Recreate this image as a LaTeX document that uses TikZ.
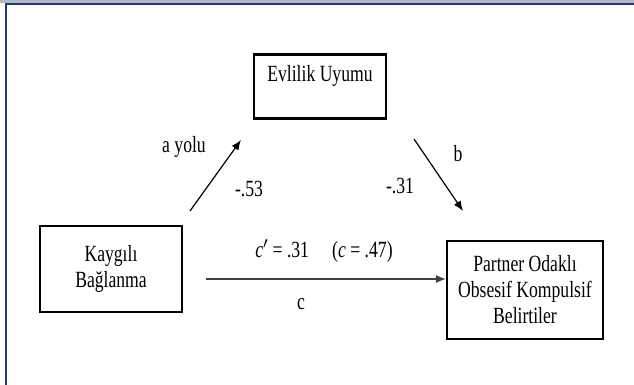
\documentclass[tikz,border=0pt]{standalone}
\usepackage{fontspec}
\setmainfont[FakeStretch=0.76]{Liberation Serif}
\usetikzlibrary{arrows.meta,positioning}
\definecolor{framecolor}{HTML}{1B3A80}
\definecolor{bandcolor}{HTML}{B4B8C0}

\begin{document}
\begin{tikzpicture}[
    x=0.5pt, y=-0.5pt,
    varbox/.style={
        rectangle, draw=black, line width=1.1pt, align=center,
        font=\fontsize{11.6pt}{13pt}\selectfont, inner sep=0pt
    },
    pathlabel/.style={
        font=\fontsize{11.6pt}{13pt}\selectfont, inner sep=0pt
    },
    patharrow/.style={
        -{Latex[length=5pt,width=4pt]}, line width=0.6pt
    }
]
\useasboundingbox (0,0) rectangle (634,385);

% Page frame
\fill[bandcolor] (0,0) rectangle (634,3);
\draw[framecolor, line width=1pt] (6,385) -- (6,4.5) -- (634,4.5);

% Variables
\node[varbox, minimum width=66pt, minimum height=32pt] (EU) at (320,86.5) {Evlilik Uyumu\\\mbox{}};
\node[varbox, minimum width=71pt, minimum height=43pt] (KB) at (111,269) {Kayg\i l\i\\Ba\u{g}lanma};
\node[varbox, minimum width=78pt, minimum height=49pt] (PO) at (525,290) {Partner Odakl\i\\Obsesif Kompulsif\\Belirtiler};

% Path ends
\coordinate (a0) at (190,211);
\coordinate (a1) at (241,140);
\coordinate (b0) at (414,139);
\coordinate (b1) at (463,211);
\coordinate (c0) at (206,279);

\draw[patharrow] (a0) -- (a1);
\draw[patharrow] (b0) -- (b1);
\draw[patharrow, black!75] (c0) -- (c0 -| PO.west) coordinate (c1);

% Path labels
\node[pathlabel] (ayolu) at (184,147) {a yolu};
\node[pathlabel] (acoef) at (249,189) {-.53};
\node[pathlabel] (bname) at (458,154) {b};
\node[pathlabel] (bcoef) at (400,186) {-.31};
\node[pathlabel] (ccoef) at (324,251) {\textit{c}$'$\,= .31\quad(\textit{c} = .47)};
\node[pathlabel] (cname) at (301,304) {c};

\end{tikzpicture}
\end{document}
